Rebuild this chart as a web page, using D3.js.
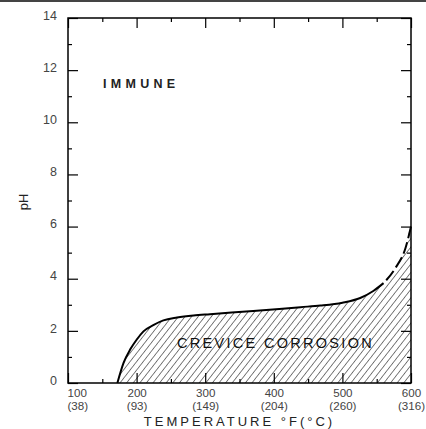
<!DOCTYPE html>
<html>
<head>
<meta charset="utf-8">
<script src="https://cdn.jsdelivr.net/npm/d3@7"></script>
<style>
  body { margin: 0; background: #fff; }
  svg { display: block; font-family: "Liberation Sans", Arial, sans-serif; }
  .tick text { fill: #444; font-size: 12.5px; }
  .tick text.two-line { font-size: 11.6px; }
  .domain { display: none; }
</style>
</head>
<body>
<div id="chart"></div>
<script>
'use strict';
// temperature (°F) vs pH
let solidCurve = [
  [172, 0], [181, 0.77], [191, 1.3], [200, 1.66], [210, 1.98], [225, 2.23],
  [239, 2.4], [259, 2.51], [283, 2.59], [307, 2.64], [370, 2.76], [439, 2.91],
  [468, 2.97], [500, 3.08], [526, 3.26], [545, 3.53], [560, 3.83]
];
let dashedCurve = [[560, 3.83], [577, 4.4], [592, 5.18], [600, 6.0]];
let fTicks = [100, 200, 300, 400, 500, 600];
let cLabels = ["(38)", "(93)", "(149)", "(204)", "(260)", "(316)"];
let phTicks = [0, 2, 4, 6, 8, 10, 12, 14];
let fMinor = [150, 250, 350, 450, 550];
let phMinor = [1, 3, 5, 7, 9, 11, 13];

let W = 426, H = 429;
let margin = { top: 18, right: 15, bottom: 46, left: 68 };
let innerW = W - margin.left - margin.right;
let innerH = H - margin.top - margin.bottom;

let svg = d3.select("#chart").append("svg")
  .attr("width", W)
  .attr("height", H);

// thin dark rule along the very top of the picture
svg.append("rect")
  .attr("x", 0).attr("y", 0)
  .attr("width", W).attr("height", 2)
  .attr("fill", "#444");

let defs = svg.append("defs");
defs.append("pattern")
  .attr("id", "hatch")
  .attr("patternUnits", "userSpaceOnUse")
  .attr("width", 5.2)
  .attr("height", 10)
  .attr("patternTransform", "rotate(38)")
  .append("line")
  .attr("x1", 0).attr("y1", -1)
  .attr("x2", 0).attr("y2", 11)
  .attr("stroke", "#000")
  .attr("stroke-width", 1);

let g = svg.append("g")
  .attr("transform", "translate(" + margin.left + "," + margin.top + ")");

let x = d3.scaleLinear().domain([100, 600]).range([0, innerW]);
let y = d3.scaleLinear().domain([0, 14]).range([innerH, 0]);

// hatched region under the whole boundary
let fullCurve = solidCurve.concat(dashedCurve.slice(1));
let area = d3.area()
  .x(function (d) { return x(d[0]); })
  .y0(y(0))
  .y1(function (d) { return y(d[1]); })
  .curve(d3.curveMonotoneX);
g.append("path")
  .datum(fullCurve.concat([[600, 0]]))
  .attr("d", area)
  .attr("fill", "url(#hatch)");

let line = d3.line()
  .x(function (d) { return x(d[0]); })
  .y(function (d) { return y(d[1]); })
  .curve(d3.curveMonotoneX);
g.append("path")
  .datum(solidCurve)
  .attr("d", line)
  .attr("fill", "none")
  .attr("stroke", "#000")
  .attr("stroke-width", 2);
g.append("path")
  .datum(dashedCurve)
  .attr("d", line)
  .attr("fill", "none")
  .attr("stroke", "#000")
  .attr("stroke-width", 2)
  .attr("stroke-dasharray", "12,4")
  .attr("stroke-dashoffset", -4);

// axes: major ticks point inward 10px, minor 4px
function addAxis(axisGen, tx, ty) {
  return g.append("g")
    .attr("transform", "translate(" + tx + "," + ty + ")")
    .call(axisGen)
    .call(function (s) { s.selectAll(".tick line").attr("stroke", "#000").attr("stroke-width", 1.2); });
}
let leftAx = addAxis(d3.axisLeft(y).tickValues(phTicks).tickSize(-10).tickPadding(11), 0, 0);
leftAx.selectAll("text").attr("dy", "0.1em");
addAxis(d3.axisLeft(y).tickValues(phMinor).tickSize(-4).tickFormat(""), 0, 0);
addAxis(d3.axisRight(y).tickValues(phTicks).tickSize(-10).tickFormat(""), innerW, 0);
addAxis(d3.axisRight(y).tickValues(phMinor).tickSize(-4).tickFormat(""), innerW, 0);
addAxis(d3.axisTop(x).tickValues(fTicks).tickSize(-10).tickFormat(""), 0, 0);
addAxis(d3.axisTop(x).tickValues(fMinor).tickSize(-4).tickFormat(""), 0, 0);
addAxis(d3.axisBottom(x).tickValues(fMinor).tickSize(-4).tickFormat(""), 0, innerH);

// bottom labels: °F on the first line, °C in brackets below
let bottomAx = addAxis(d3.axisBottom(x).tickValues(fTicks).tickSize(-10).tickFormat(""), 0, innerH);
bottomAx.selectAll(".tick").each(function (d, i) {
  let tk = d3.select(this);
  let anchor = i === 0 ? "start" : "middle";
  let dx = i === 0 ? -1 : 0;
  tk.append("text").attr("class", "two-line")
    .attr("x", dx).attr("y", 13.5).attr("text-anchor", anchor).text(d);
  tk.append("text").attr("class", "two-line")
    .attr("x", dx).attr("y", 27).attr("text-anchor", anchor).text(cLabels[i]);
});

// frame
g.append("rect")
  .attr("width", innerW)
  .attr("height", innerH)
  .attr("fill", "none")
  .attr("stroke", "#000")
  .attr("stroke-width", 1.5);

// labels
g.append("text")
  .attr("x", 35).attr("y", 70)
  .attr("font-size", 12.5)
  .attr("font-weight", "bold")
  .attr("letter-spacing", "4.3px")
  .attr("fill", "#222")
  .text("IMMUNE");

g.append("text")
  .attr("x", 109).attr("y", 330)
  .attr("font-size", 14.5)
  .attr("letter-spacing", "2.3px")
  .attr("fill", "#111")
  .text("CREVICE CORROSION");

svg.append("text")
  .attr("x", (margin.left + W - margin.right) / 2)
  .attr("y", 426)
  .attr("text-anchor", "middle")
  .attr("font-size", 13)
  .attr("letter-spacing", "3px")
  .attr("fill", "#222")
  .text("TEMPERATURE °F(°C)");

svg.append("text")
  .attr("transform", "translate(28,202) rotate(-90)")
  .attr("text-anchor", "middle")
  .attr("font-size", 13)
  .attr("fill", "#222")
  .text("pH");
</script>
</body>
</html>
